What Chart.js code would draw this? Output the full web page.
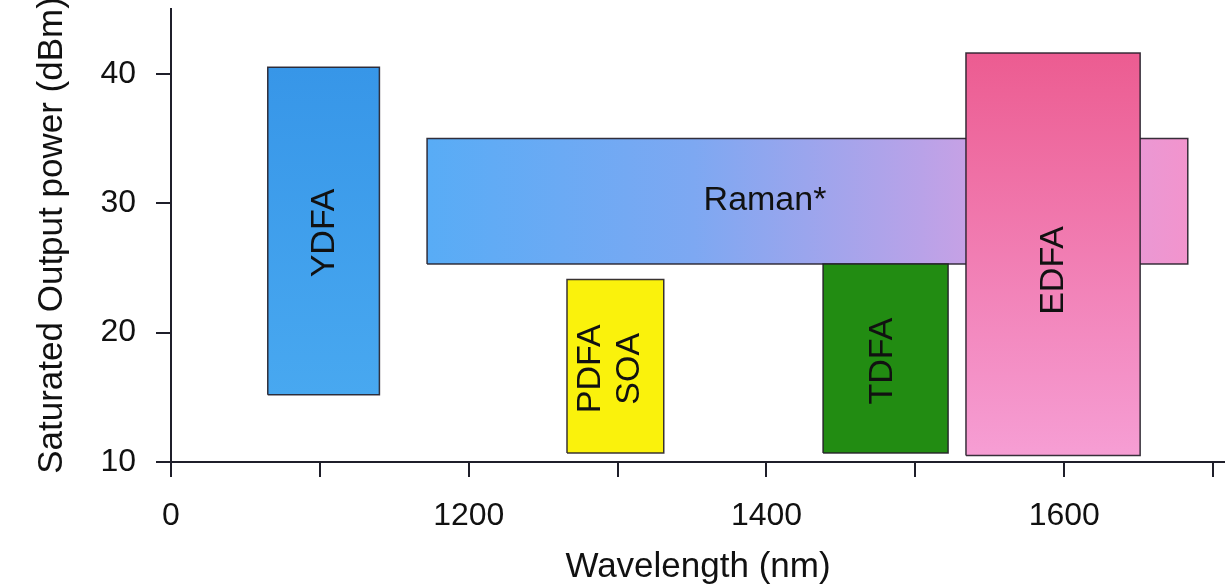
<!DOCTYPE html>
<html>
<head>
<meta charset="utf-8">
<script src="https://cdn.jsdelivr.net/npm/chart.js@4/dist/chart.umd.min.js"></script>
<style>
  html, body { margin: 0; padding: 0; background: #fff; }
  #wrap { width: 1225px; height: 588px; position: relative; }
</style>
</head>
<body>
<div id="wrap"><canvas id="ampChart"></canvas></div>
<script>
// 放大器种类与范围 (wavelength nm / dBm)
const amplifiers = ['YDFA', 'Raman*', 'PDFA/SOA', 'TDFA', 'EDFA'];
const wlStart = [1065, 1172, 1266, 1438, 1534];
const wlEnd = [1140, 1683, 1331, 1522, 1651];
const powLow = [15.2, 25.3, 10.7, 10.7, 10.5];
const powHigh = [40.5, 35.0, 24.1, 25.3, 41.6];

// 标签文字与位置
const labelText = ['YDFA', 'Raman*', 'PDFA\nSOA', 'TDFA', 'EDFA'];
const labelWl = [1103, 1399, 1295, 1478, 1593];
const labelPow = [27.7, 30.2, 17.2, 17.8, 24.8];
const labelRotated = [true, false, true, true, true];

// 坐标轴刻度
const xTickValues = [1000, 1100, 1200, 1300, 1400, 1500, 1600, 1700];
const xTickLabels = ['0', '', '1200', '', '1400', '', '1600', ''];
const yTickValues = [10, 20, 30, 40];

const FONT = "'Liberation Sans', Arial, Helvetica, sans-serif";
const AXIS_COLOR = '#1f1f2a';

// 颜色
function boxFill(i) {
    return function(context) {
        const chart = context.chart;
        const area = chart.chartArea;
        const solid = ['rgb(62,158,236)', 'rgb(150,165,240)', 'rgb(250,242,12)', 'rgb(34,140,18)', 'rgb(240,110,165)'];
        if (!area) return solid[i];
        const xs = chart.scales.x, ys = chart.scales.y;
        const c = chart.ctx;
        if (i === 1) {
            const g = c.createLinearGradient(xs.getPixelForValue(wlStart[i]), 0, xs.getPixelForValue(wlEnd[i]), 0);
            g.addColorStop(0, 'rgb(88,172,246)');
            g.addColorStop(0.35, 'rgb(125,168,242)');
            g.addColorStop(0.65, 'rgb(185,162,232)');
            g.addColorStop(0.8, 'rgb(218,160,225)');
            g.addColorStop(1, 'rgb(242,148,205)');
            return g;
        }
        if (i === 4) {
            const g = c.createLinearGradient(0, ys.getPixelForValue(powHigh[i]), 0, ys.getPixelForValue(powLow[i]));
            g.addColorStop(0, 'rgb(236,92,145)');
            g.addColorStop(1, 'rgb(246,158,212)');
            return g;
        }
        if (i === 0) {
            const g = c.createLinearGradient(0, ys.getPixelForValue(powHigh[i]), 0, ys.getPixelForValue(powLow[i]));
            g.addColorStop(0, 'rgb(55,150,232)');
            g.addColorStop(1, 'rgb(72,168,240)');
            return g;
        }
        return solid[i];
    };
}

const datasets = amplifiers.map((name, i) => ({
    label: name,
    data: [
        {x: wlStart[i], y: powLow[i]},
        {x: wlStart[i], y: powHigh[i]},
        {x: wlEnd[i], y: powHigh[i]},
        {x: wlEnd[i], y: powLow[i]},
        {x: wlStart[i], y: powLow[i]}
    ],
    showLine: true,
    fill: 'shape',
    backgroundColor: boxFill(i),
    borderColor: 'rgba(35,30,40,0.9)',
    borderWidth: 1.5,
    pointRadius: 0,
    tension: 0,
    order: name === 'Raman*' ? 1 : 0
}));

// 在方块上写名称
const boxLabels = {
    id: 'boxLabels',
    afterDatasetsDraw(chart) {
        const c = chart.ctx;
        const xs = chart.scales.x, ys = chart.scales.y;
        c.save();
        c.fillStyle = '#111';
        c.font = '34px ' + FONT;
        c.textAlign = 'center';
        c.textBaseline = 'middle';
        labelText.forEach((txt, i) => {
            const px = xs.getPixelForValue(labelWl[i]);
            const py = ys.getPixelForValue(labelPow[i]);
            const lines = txt.split('\n');
            const lh = 39;
            c.save();
            c.translate(px, py);
            if (labelRotated[i]) c.rotate(-Math.PI / 2);
            lines.forEach((ln, k) => {
                c.fillText(ln, 0, (k - (lines.length - 1) / 2) * lh);
            });
            c.restore();
        });
        c.restore();
    }
};

function initChart() {
    const ctx = document.getElementById('ampChart').getContext('2d');
    new Chart(ctx, {
        type: 'scatter',
        data: { datasets: datasets },
        options: {
            responsive: true,
            maintainAspectRatio: false,
            animation: false,
            events: [],
            layout: { padding: { top: 9, left: 0, right: 0, bottom: 0 } },
            plugins: {
                legend: { display: false },
                tooltip: { enabled: false }
            },
            scales: {
                x: {
                    type: 'linear',
                    min: 1000,
                    max: 1708,
                    afterBuildTicks: scale => { scale.ticks = xTickValues.map(v => ({ value: v })); },
                    afterFit: scale => { scale.height = 126; scale.paddingLeft = 0; scale.paddingRight = 0; },
                    ticks: {
                        autoSkip: false,
                        maxRotation: 0,
                        padding: 20,
                        color: '#111',
                        font: { family: FONT, size: 32 },
                        callback: (v) => {
                            const k = xTickValues.indexOf(v);
                            return k >= 0 ? xTickLabels[k] : '';
                        }
                    },
                    grid: { drawOnChartArea: false, drawTicks: true, tickLength: 15, color: AXIS_COLOR, lineWidth: 2 },
                    border: { display: true, color: AXIS_COLOR, width: 2 },
                    title: {
                        display: true,
                        text: 'Wavelength (nm)',
                        color: '#111',
                        font: { family: FONT, size: 35 },
                        padding: { top: 2, bottom: 0 }
                    }
                },
                y: {
                    type: 'linear',
                    min: 10,
                    max: 45,
                    afterBuildTicks: scale => { scale.ticks = yTickValues.map(v => ({ value: v })); },
                    afterFit: scale => { scale.width = 171; scale.paddingTop = 0; scale.paddingBottom = 0; },
                    ticks: {
                        padding: 20,
                        color: '#111',
                        font: { family: FONT, size: 32 }
                    },
                    grid: { drawOnChartArea: false, drawTicks: true, tickLength: 15, color: AXIS_COLOR, lineWidth: 2 },
                    border: { display: true, color: AXIS_COLOR, width: 2 },
                    title: {
                        display: true,
                        text: 'Saturated Output power (dBm)',
                        color: '#111',
                        font: { family: FONT, size: 35 },
                        padding: { top: 31, bottom: 0 }
                    }
                }
            }
        },
        plugins: [boxLabels]
    });
}

document.addEventListener('DOMContentLoaded', initChart);
</script>
</body>
</html>
